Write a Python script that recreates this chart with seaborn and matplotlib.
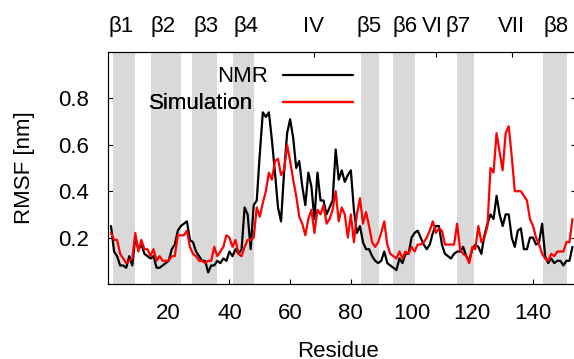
import matplotlib
matplotlib.use("Agg")
import matplotlib.pyplot as plt
import pandas as pd
import seaborn as sns

residues = list(range(1, 154))
nmr = [0.25, 0.14, 0.12, 0.08, 0.08, 0.07, 0.12, 0.08, 0.20, 0.15,
       0.17, 0.13, 0.12, 0.11, 0.12, 0.07, 0.07, 0.08, 0.09, 0.10,
       0.15, 0.17, 0.23, 0.25, 0.26, 0.27, 0.19, 0.18, 0.14, 0.12,
       0.10, 0.10, 0.05, 0.08, 0.08, 0.10, 0.09, 0.11, 0.10, 0.14,
       0.12, 0.15, 0.13, 0.15, 0.33, 0.30, 0.15, 0.34, 0.36, 0.56,
       0.74, 0.72, 0.74, 0.62, 0.48, 0.33, 0.27, 0.48, 0.65, 0.71,
       0.63, 0.50, 0.53, 0.42, 0.34, 0.48, 0.42, 0.28, 0.48, 0.36,
       0.36, 0.30, 0.33, 0.36, 0.58, 0.45, 0.49, 0.44, 0.47, 0.49,
       0.32, 0.22, 0.25, 0.18, 0.15, 0.15, 0.12, 0.10, 0.09, 0.10,
       0.14, 0.09, 0.08, 0.07, 0.06, 0.11, 0.09, 0.13, 0.13, 0.20,
       0.22, 0.23, 0.20, 0.17, 0.15, 0.17, 0.22, 0.25, 0.25, 0.17,
       0.13, 0.12, 0.11, 0.13, 0.14, 0.14, 0.16, 0.12, 0.10, 0.15,
       0.17, 0.16, 0.13, 0.21, 0.26, 0.30, 0.28, 0.38, 0.30, 0.25,
       0.30, 0.30, 0.20, 0.16, 0.23, 0.24, 0.15, 0.15, 0.20, 0.20,
       0.17, 0.18, 0.26, 0.12, 0.09, 0.11, 0.09, 0.10, 0.10, 0.08,
       0.10, 0.10, 0.16]
simulation = [0.22, 0.19, 0.19, 0.13, 0.11, 0.09, 0.10, 0.11, 0.22, 0.14,
              0.19, 0.15, 0.15, 0.12, 0.15, 0.10, 0.12, 0.10, 0.10, 0.10,
              0.12, 0.12, 0.21, 0.21, 0.21, 0.23, 0.16, 0.13, 0.12, 0.10,
              0.10, 0.09, 0.10, 0.10, 0.16, 0.12, 0.14, 0.16, 0.21, 0.20,
              0.16, 0.19, 0.13, 0.12, 0.16, 0.19, 0.19, 0.20, 0.33, 0.29,
              0.35, 0.40, 0.48, 0.45, 0.53, 0.54, 0.47, 0.49, 0.60, 0.53,
              0.45, 0.38, 0.29, 0.26, 0.21, 0.28, 0.32, 0.22, 0.32, 0.30,
              0.34, 0.26, 0.28, 0.32, 0.40, 0.27, 0.33, 0.30, 0.20, 0.30,
              0.18, 0.30, 0.37, 0.26, 0.31, 0.25, 0.18, 0.16, 0.18, 0.22,
              0.27, 0.17, 0.13, 0.12, 0.11, 0.14, 0.11, 0.14, 0.13, 0.16,
              0.14, 0.17, 0.17, 0.18, 0.20, 0.23, 0.27, 0.22, 0.24, 0.23,
              0.17, 0.17, 0.17, 0.17, 0.26, 0.15, 0.13, 0.12, 0.09, 0.16,
              0.15, 0.25, 0.18, 0.20, 0.25, 0.50, 0.48, 0.65, 0.57, 0.49,
              0.65, 0.68, 0.55, 0.40, 0.40, 0.40, 0.38, 0.36, 0.28, 0.25,
              0.20, 0.17, 0.13, 0.11, 0.10, 0.13, 0.12, 0.14, 0.14, 0.14,
              0.18, 0.18, 0.28]

strand_start = [1.8, 14.0, 27.8, 41.1, 83.2, 94.0, 115.1, 143.2]
strand_end = [8.9, 24.2, 35.9, 48.1, 89.4, 101.2, 120.4, 151.3]

top_labels = ["β1", "β2", "β3", "β4", "IV", "β5", "β6", "VI", "β7", "VII", "β8"]
top_label_pos = [4.2, 18.3, 32.2, 45.4, 67.8, 85.9, 97.8, 106.7, 115.2, 132.8, 147.6]
top_tick_pos = [68, 108, 133]
x_ticks = [20, 40, 60, 80, 100, 120, 140]
y_ticks = [0.2, 0.4, 0.6, 0.8]
series_names = ["NMR", "Simulation"]
series_colors = ["black", "#ff0000"]

sns.set_style("ticks")
plt.rcParams["font.family"] = ["Liberation Sans", "DejaVu Sans"]
plt.rcParams.update({
    "font.size": 16,
    "text.color": "black",
    "axes.labelcolor": "black",
    "axes.edgecolor": "black",
    "xtick.color": "black",
    "ytick.color": "black",
    "axes.linewidth": 0.8,
})

W, H = 574, 359
fig = plt.figure(figsize=(W / 100, H / 100), dpi=100)
ax = fig.add_axes([108 / W, (H - 284) / H, (575.5 - 108) / W, (284 - 52) / H])

df = pd.DataFrame({
    "Residue": residues * 2,
    "RMSF": nmr + simulation,
    "Source": [series_names[0]] * len(residues) + [series_names[1]] * len(residues),
})
sns.lineplot(data=df, x="Residue", y="RMSF", hue="Source",
             palette=dict(zip(series_names, series_colors)),
             errorbar=None, lw=1.6, ax=ax, legend=False, zorder=3)

for s, e in zip(strand_start, strand_end):
    ax.axvspan(s, e, color="#d9d9d9", lw=0, zorder=1)

ax.set_xlim(0, 154)
ax.set_ylim(0, 1.0)
ax.set_xticks(x_ticks)
ax.set_yticks(y_ticks)
ax.set_yticklabels([f"{v:.1f}" for v in y_ticks])
ax.tick_params(axis="both", direction="in", length=3.6, width=0.8, labelsize=16)
ax.tick_params(axis="x", top=False, bottom=True, pad=13.7)
ax.tick_params(axis="y", left=True, right=True, pad=13.9)

ax.set_xlabel("Residue", fontsize=16)
ax.set_ylabel("RMSF [nm]", fontsize=16)
ax.xaxis.set_label_coords(0.492, (284 - 341.1) / 232)
ax.yaxis.set_label_coords((34.7 - 108) / 467.5, 0.5)

ax2 = ax.twiny()
ax2.set_xlim(ax.get_xlim())
ax2.set_xticks(top_tick_pos)
ax2.set_xticklabels([])
ax2.set_xticks(top_label_pos, minor=True)
ax2.set_xticklabels(top_labels, minor=True)
ax2.tick_params(axis="x", which="major", direction="in", length=3.6, width=0.8,
                top=True, bottom=False, labeltop=False, labelbottom=False)
ax2.tick_params(axis="x", which="minor", direction="in", length=0, pad=10.5,
                labelsize=16, top=True, bottom=False, labeltop=True, labelbottom=False)

# gnuplot-style key: text left of sample; entries placed row by row
legend_anchor_x = (353 - 108) / 467.5
row_tops = [66.5, 93.3]
text_pads = [0.68, 1.34]
for line, name, top, pad in zip(ax.lines[:2], series_names, row_tops, text_pads):
    leg = ax.legend([line], [name], frameon=False, markerfirst=False,
                    loc="upper right", bbox_to_anchor=(legend_anchor_x, (284 - top) / 232),
                    borderpad=0, borderaxespad=0, handlelength=3.15, handletextpad=pad,
                    fontsize=16)
    ax.add_artist(leg)

fig.savefig("out.png", dpi=100)
